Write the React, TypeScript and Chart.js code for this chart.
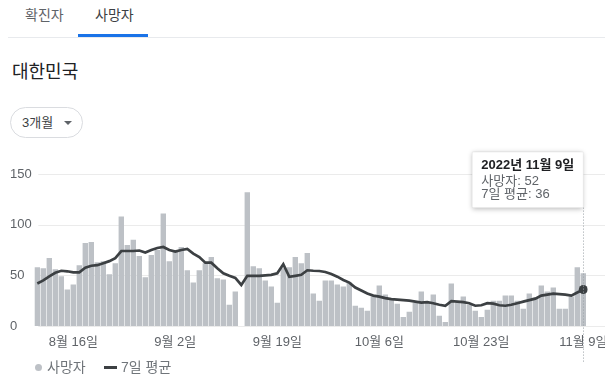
import React, { useEffect, useRef } from 'react';
import { Chart, registerables, Tooltip } from 'chart.js';

Chart.register(...registerables);

const FONT = "'Liberation Sans', Arial, 'Noto Sans CJK KR', sans-serif";

const categories = [
  '8월 10일', '8월 11일', '8월 12일', '8월 13일', '8월 14일', '8월 15일', '8월 16일', '8월 17일', '8월 18일', '8월 19일',
  '8월 20일', '8월 21일', '8월 22일', '8월 23일', '8월 24일', '8월 25일', '8월 26일', '8월 27일', '8월 28일', '8월 29일',
  '8월 30일', '8월 31일',
  '9월 1일', '9월 2일', '9월 3일', '9월 4일', '9월 5일', '9월 6일', '9월 7일', '9월 8일', '9월 9일', '9월 10일',
  '9월 11일', '9월 12일', '9월 13일', '9월 14일', '9월 15일', '9월 16일', '9월 17일', '9월 18일', '9월 19일', '9월 20일',
  '9월 21일', '9월 22일', '9월 23일', '9월 24일', '9월 25일', '9월 26일', '9월 27일', '9월 28일', '9월 29일', '9월 30일',
  '10월 1일', '10월 2일', '10월 3일', '10월 4일', '10월 5일', '10월 6일', '10월 7일', '10월 8일', '10월 9일', '10월 10일',
  '10월 11일', '10월 12일', '10월 13일', '10월 14일', '10월 15일', '10월 16일', '10월 17일', '10월 18일', '10월 19일', '10월 20일',
  '10월 21일', '10월 22일', '10월 23일', '10월 24일', '10월 25일', '10월 26일', '10월 27일', '10월 28일', '10월 29일', '10월 30일',
  '10월 31일',
  '11월 1일', '11월 2일', '11월 3일', '11월 4일', '11월 5일', '11월 6일', '11월 7일', '11월 8일', '11월 9일',
];

const deaths = [
  58, 57, 67, 56, 49, 36, 41, 60, 82, 83,
  63, 64, 51, 62, 108, 80, 85, 69, 48, 70,
  75, 111, 64, 73, 78, 55, 43, 55, 62, 68,
  47, 46, 21, 34, null, 132, 59, 57, 45, 39,
  23, 57, 58, 68, 62, 72, 32, 25, 45, 45,
  41, 39, 43, 20, 18, 15, 29, 40, 31, 26,
  22, 9, 14, 23, 34, 23, 31, 10, 4, 42,
  23, 29, 21, 15, 9, 16, 25, 25, 30, 30,
  25, 17, 32, 28, 40, 34, 38, 17, 17, 29,
  58, 52,
];

const avg7 = [
  42, 45, 49, 52.5, 54.5, 54, 53, 53, 57.5, 59.5,
  60, 62, 64, 67, 74, 74, 74, 74.5, 72.5, 75,
  77, 78, 75, 73.5, 75, 76, 71.5, 68, 62.5, 62.5,
  57, 52, 49.5, 47.5, 40.5, 49.5, 49.5, 49.5, 50, 50.5,
  52, 61, 48.5, 49.5, 50.5, 55, 54.5, 54.3, 53.3, 51.3,
  48.7, 45.4, 42.8, 38, 35, 32, 30, 29, 27.5, 26.5,
  26, 25.5, 25, 24, 23, 23.5, 22.5, 21, 20, 24.5,
  24, 23.5, 22.5, 20, 20.5, 22.5, 22, 20.5, 20, 21,
  22.5, 24, 25.5, 27, 30, 31, 32, 31.5, 31, 30,
  33, 36,
];

const tickLabels = ['8월 16일', '9월 2일', '9월 19일', '10월 6일', '10월 23일', '11월 9일'];
const seriesNames = ['사망자', '7일 평균'];
const yearLabel = '2022년';
const focusLabel = '11월 9일';
const yMax = 150;
const yStep = 50;

const BAR_COLOR = '#bdc1c6';
const LINE_COLOR = '#3c4043';

(Tooltip as any).positioners.topRight = function (items: any[]) {
  if (!items.length) return false;
  const chart = (this as any).chart;
  return { x: items[0].element.x, y: chart.chartArea.top - 22 };
};

const guidePlugin = {
  id: 'guide',
  beforeDatasetsDraw(chart: any) {
    const { ctx, chartArea, scales } = chart;
    const y = scales.y;
    ctx.save();
    ctx.strokeStyle = '#ebebeb';
    ctx.lineWidth = 1;
    y.ticks.forEach((t: any) => {
      const py = Math.round(y.getPixelForValue(t.value)) + 0.5;
      ctx.beginPath();
      ctx.moveTo(chartArea.left + 4, py);
      ctx.lineTo(chart.width, py);
      ctx.stroke();
    });
    ctx.restore();
  },
  afterDatasetsDraw(chart: any) {
    const tt = chart.tooltip;
    if (!tt) return;
    const act = tt.getActiveElements();
    if (!act.length) return;
    const { ctx, chartArea } = chart;
    const x = Math.round(act[0].element.x) + 0.5;
    ctx.save();
    ctx.strokeStyle = '#9aa0a6';
    ctx.lineWidth = 1;
    ctx.setLineDash([1, 2]);
    ctx.beginPath();
    ctx.moveTo(x, tt.y + tt.height);
    ctx.lineTo(x, chartArea.bottom + 36);
    ctx.stroke();
    ctx.restore();
  },
  beforeTooltipDraw(chart: any, args: any) {
    const tt = args.tooltip;
    if (!tt.opacity) return;
    const { ctx } = chart;
    ctx.save();
    ctx.shadowColor = 'rgba(0,0,0,0.28)';
    ctx.shadowBlur = 5;
    ctx.shadowOffsetY = 1;
    ctx.fillStyle = '#fff';
    ctx.fillRect(tt.x, tt.y, tt.width, tt.height);
    ctx.restore();
  },
};

function ChartCanvas() {
  const ref = useRef<HTMLCanvasElement | null>(null);

  useEffect(() => {
    if (!ref.current) return;
    const chart = new Chart(ref.current, {
      type: 'bar',
      data: {
        labels: categories,
        datasets: [
          {
            type: 'bar',
            label: seriesNames[0],
            data: deaths as any,
            backgroundColor: BAR_COLOR,
            hoverBackgroundColor: BAR_COLOR,
            borderWidth: 0,
            categoryPercentage: 0.9,
            barPercentage: 1,
            order: 1,
          },
          {
            type: 'line',
            label: seriesNames[1],
            data: avg7,
            borderColor: LINE_COLOR,
            backgroundColor: LINE_COLOR,
            borderWidth: 2.7,
            pointRadius: 0,
            pointHoverRadius: 4.5,
            pointHoverBackgroundColor: LINE_COLOR,
            pointHoverBorderColor: LINE_COLOR,
            pointHoverBorderWidth: 0,
            tension: 0,
            order: 0,
          } as any,
        ],
      },
      options: {
        responsive: false,
        animation: false,
        devicePixelRatio: 1,
        events: [],
        layout: { padding: { left: 10, right: 33.7, top: 29, bottom: 31 } },
        scales: {
          x: {
            grid: { display: false },
            border: { display: false },
            afterFit: (s: any) => { s.height = 30; },
            ticks: {
              autoSkip: false,
              maxRotation: 0,
              minRotation: 0,
              padding: 1,
              color: '#5f6368',
              font: { family: FONT, size: 13 },
              callback: (_v: any, i: number) => (tickLabels.includes(categories[i]) ? categories[i] : ''),
            },
          },
          y: {
            min: 0,
            max: yMax,
            grid: { display: false },
            border: { display: false },
            afterFit: (s: any) => { s.width = 24.3; },
            ticks: {
              stepSize: yStep,
              crossAlign: 'far',
              padding: 3,
              color: '#5f6368',
              font: { family: FONT, size: 13 },
            },
          },
        },
        plugins: {
          legend: { display: false },
          tooltip: {
            enabled: true,
            mode: 'index',
            intersect: false,
            position: 'topRight' as any,
            xAlign: 'right',
            yAlign: 'top',
            caretSize: 0,
            caretPadding: 0,
            cornerRadius: 0,
            backgroundColor: '#ffffff',
            borderColor: 'rgba(0,0,0,0.06)',
            borderWidth: 1,
            titleColor: '#202124',
            bodyColor: '#5f6368',
            titleFont: { family: FONT, size: 13, weight: 'bold', lineHeight: 1.1 },
            bodyFont: { family: FONT, size: 13, lineHeight: 1.05 },
            titleMarginBottom: 2,
            bodySpacing: 0,
            padding: { top: 6, bottom: 6, left: 9, right: 9 },
            displayColors: false,
            itemSort: (a: any, b: any) => a.datasetIndex - b.datasetIndex,
            callbacks: {
              title: (items: any[]) => `${yearLabel} ${items[0].label}`,
              label: (c: any) => `${c.dataset.label}: ${Math.round(c.parsed.y)}`,
            },
          },
        },
      },
      plugins: [guidePlugin],
    } as any);

    const idx = categories.indexOf(focusLabel);
    const els = [
      { datasetIndex: 0, index: idx },
      { datasetIndex: 1, index: idx },
    ];
    const pt = chart.getDatasetMeta(1).data[idx] as any;
    chart.setActiveElements(els);
    chart.tooltip?.setActiveElements(els, { x: pt.x, y: pt.y });
    chart.update();

    return () => chart.destroy();
  }, []);

  return (
    <canvas
      ref={ref}
      width={620}
      height={242}
      style={{ position: 'absolute', left: 0, top: 145, width: 620, height: 242 }}
    />
  );
}

export default function App() {
  const abs = (s: React.CSSProperties): React.CSSProperties => ({ position: 'absolute', ...s });
  return (
    <div
      style={{
        position: 'fixed',
        left: 0,
        top: 0,
        width: 605,
        height: 387,
        overflow: 'hidden',
        background: '#fff',
        fontFamily: FONT,
      }}
    >
      <div style={abs({ left: 25, top: 5, fontSize: 14, lineHeight: '20px', color: '#5f6368' })}>확진자</div>
      <div style={abs({ left: 95, top: 5, fontSize: 14, lineHeight: '20px', color: '#3c4043' })}>사망자</div>
      <div style={abs({ left: 78, top: 34, width: 70, height: 3, background: '#1a73e8' })} />
      <div style={abs({ left: 8, top: 37, width: 600, height: 1, background: '#e8eaed' })} />
      <div style={abs({ left: 12, top: 60, fontSize: 18, lineHeight: '24px', color: '#202124' })}>대한민국</div>
      <div
        style={abs({
          left: 10,
          top: 107,
          width: 73,
          height: 31,
          boxSizing: 'border-box',
          border: '1px solid #dadce0',
          borderRadius: 16,
        })}
      >
        <span style={abs({ left: 11, top: 5, fontSize: 13, lineHeight: '20px', color: '#3c4043' })}>3개월</span>
        <span
          style={abs({
            left: 53,
            top: 13,
            width: 0,
            height: 0,
            borderLeft: '4px solid transparent',
            borderRight: '4px solid transparent',
            borderTop: '4px solid #5f6368',
          })}
        />
      </div>
      <ChartCanvas />
      <div style={abs({ left: 34.5, top: 363.5, width: 7, height: 7, borderRadius: '50%', background: BAR_COLOR })} />
      <div style={abs({ left: 47, top: 357, fontSize: 14, lineHeight: '20px', color: '#70757a' })}>{seriesNames[0]}</div>
      <div style={abs({ left: 104, top: 365.5, width: 13, height: 3, background: LINE_COLOR })} />
      <div style={abs({ left: 121, top: 357, fontSize: 14, lineHeight: '20px', color: '#70757a' })}>{seriesNames[1]}</div>
    </div>
  );
}
